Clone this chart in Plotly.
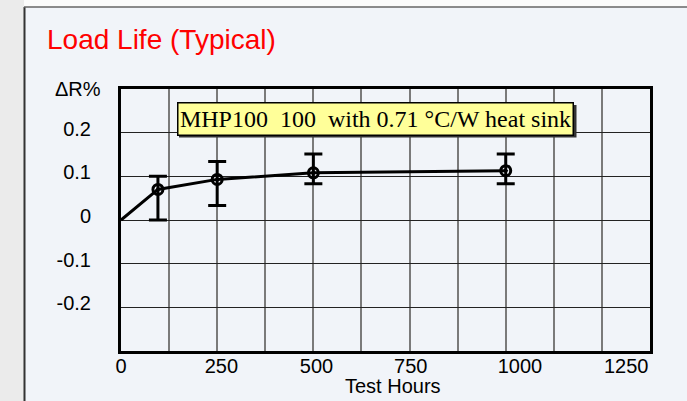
import plotly.graph_objects as go

# ---- data ----
hours = [96, 250, 500, 1000]
delta_r = [0.07, 0.093, 0.108, 0.113]
delta_r_high = [0.10, 0.134, 0.151, 0.151]
delta_r_low = [0.0, 0.033, 0.083, 0.083]

line_hours = [0] + hours
line_delta = [0.0] + delta_r

x_tick_text = ["0", "250", "500", "750", "1000", "1250"]
x_tick_pos = [0, 261, 508, 753, 1037, 1313]   # where the reference prints its labels
y_tick_text = ["", "-0.2", "-0.1", "0", "0.1", "0.2", ""]
y_tick_vals = [-0.3, -0.2, -0.1, 0, 0.1, 0.2, 0.3]

title_text = "Load Life (Typical)"
note_text = "MHP100\u00a0\u00a0100\u00a0\u00a0with 0.71 \u00b0C/W heat sink"

# ---- layout geometry ----
W, H = 687, 401
L, R, T, B = 121, 37, 89, 50
PW, PH = W - L - R, H - T - B


def px(x):
    return (x - L) / PW


def py(y):
    return (H - B - y) / PH


err_plus = [h - m for h, m in zip(delta_r_high, delta_r)]
err_minus = [m - l for m, l in zip(delta_r, delta_r_low)]

panel = "#f1f4f9"

fig = go.Figure()
fig.add_trace(go.Scatter(
    x=line_hours, y=line_delta, mode="lines",
    line=dict(color="black", width=3), showlegend=False, hoverinfo="skip"))
fig.add_trace(go.Scatter(
    x=hours, y=delta_r, mode="markers",
    marker=dict(symbol="circle-open-dot", size=10, color="black", line=dict(width=3, color="black")),
    error_y=dict(type="data", symmetric=False, array=err_plus, arrayminus=err_minus,
                 color="black", thickness=3, width=9),
    showlegend=False))
# invisible trace to activate the label axis
fig.add_trace(go.Scatter(x=[0], y=[0], xaxis="x2", mode="markers",
                         marker=dict(opacity=0), showlegend=False, hoverinfo="skip"))

fig.update_layout(
    width=W, height=H,
    margin=dict(l=L, r=R, t=T, b=B),
    paper_bgcolor=panel, plot_bgcolor=panel,
    font=dict(family="Liberation Sans, Arial, sans-serif", size=20, color="black"),
    xaxis=dict(range=[0, 1375], dtick=125, tick0=0, showticklabels=False, ticks="",
               showgrid=True, gridcolor="#7a7a7a", gridwidth=1.5, zeroline=False,
               showline=True, linecolor="black", linewidth=3, mirror=True),
    xaxis2=dict(overlaying="x", matches="x", side="bottom", tickmode="array",
                tickvals=x_tick_pos, ticktext=x_tick_text, showgrid=False,
                zeroline=False, ticks="", showline=False, ticklabelstandoff=1,
                tickfont=dict(size=20)),
    yaxis=dict(range=[-0.3, 0.3], tickmode="array", tickvals=y_tick_vals, ticktext=y_tick_text,
               showgrid=True, gridcolor="#222222", gridwidth=1, zeroline=False, ticks="",
               showline=True, linecolor="black", linewidth=3, mirror=True,
               ticklabelstandoff=23, ticklabelshift=-4, tickfont=dict(size=20)),
)

shapes = [
    dict(type="rect", xref="paper", yref="paper", x0=px(-2), x1=px(24), y0=py(H + 2), y1=py(-2),
         fillcolor="#ebebeb", line=dict(width=0), layer="below"),
    dict(type="rect", xref="paper", yref="paper", x0=px(24), x1=px(W + 2), y0=py(7), y1=py(-2),
         fillcolor="#fbfbfb", line=dict(width=0), layer="below"),
    dict(type="line", xref="paper", yref="paper", x0=px(24.5), x1=px(24.5), y0=py(7), y1=py(H + 2),
         line=dict(color="#333333", width=2)),
    dict(type="line", xref="paper", yref="paper", x0=px(24), x1=px(W + 2), y0=py(7), y1=py(7),
         line=dict(color="#666666", width=1.5)),
    # drop shadow of the note box
    dict(type="rect", xref="paper", yref="paper", x0=px(179), x1=px(576.5), y0=py(137.5), y1=py(105),
         fillcolor="#333333", line=dict(width=0), layer="above"),
]
fig.update_layout(shapes=shapes)

annotations = [
    dict(text=title_text, xref="paper", yref="paper", x=px(45), y=py(40), xanchor="left", yanchor="middle",
         showarrow=False, font=dict(size=28, color="#ff0000", family="Liberation Sans, Arial, sans-serif")),
    dict(text="\u0394R%", xref="paper", yref="paper", x=px(103), y=py(89), xanchor="right", yanchor="middle",
         showarrow=False, font=dict(size=20)),
    dict(text="Test Hours", xref="paper", yref="paper", x=px(393), y=py(386), xanchor="center", yanchor="middle",
         showarrow=False, font=dict(size=20)),
    dict(text=note_text, xref="paper", yref="paper", x=px(375.5), y=py(119), xanchor="center", yanchor="middle",
         width=392, height=29, showarrow=False, bgcolor="#ffff99", bordercolor="black", borderwidth=1.5,
         borderpad=1, font=dict(size=24, color="black", family="Liberation Serif, Times New Roman, serif")),
]
fig.update_layout(annotations=annotations)

fig.write_html("out.html", config={"displayModeBar": False},
               post_script="document.body.style.margin='0';")
